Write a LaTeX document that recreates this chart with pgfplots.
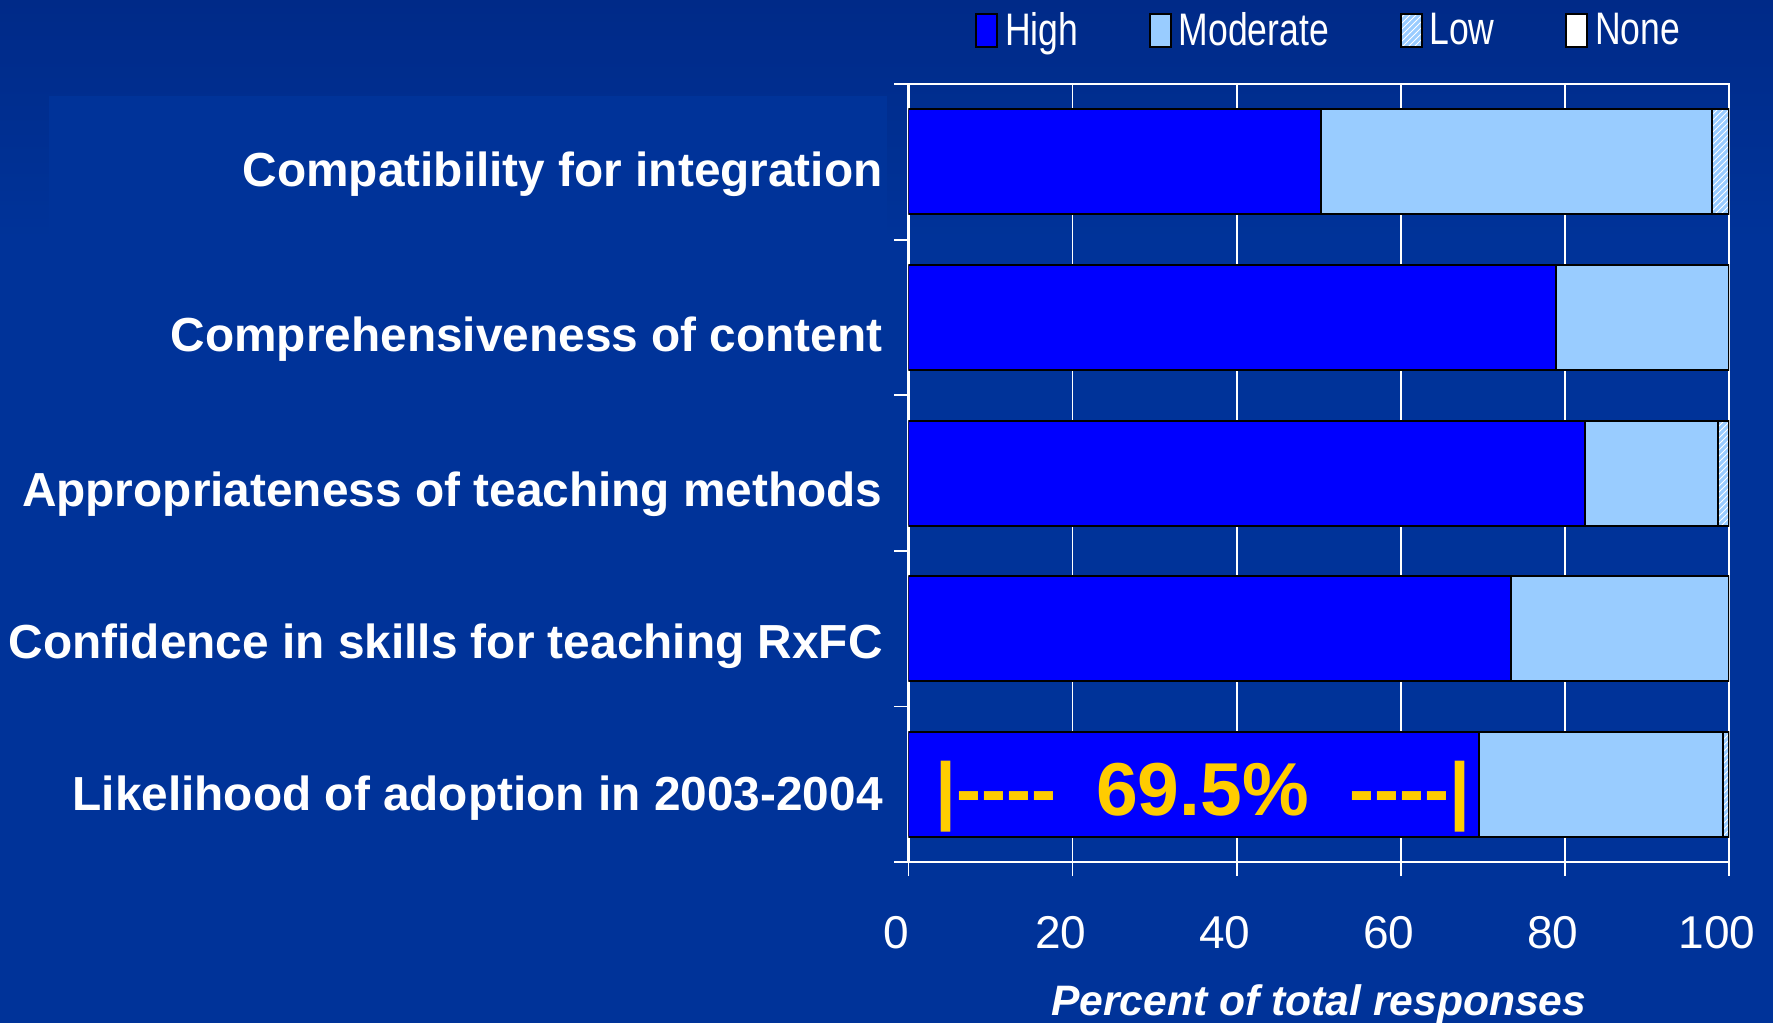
\documentclass[border=0pt]{standalone}
\usepackage{fontspec}
\setmainfont{Liberation Sans}
\newfontfamily\narrowfont[FakeStretch=0.78]{Liberation Sans}
\usepackage{pgfplots}
\pgfplotsset{compat=1.18}
\usetikzlibrary{patterns}
\definecolor{bgA}{HTML}{002A88}
\definecolor{bgB}{HTML}{003399}
\definecolor{hi}{HTML}{0000FF}
\definecolor{mod}{HTML}{99CCFF}
\definecolor{ann}{HTML}{FFCC00}
\newcommand{\lowerby}[2]{\raisebox{-#1}[\height][\depth]{#2}}
\pgfplotsset{sqlegend/.style={legend image code/.code={\draw[##1,draw=black,line width=1pt] (0pt,-8.25pt) rectangle (10.5pt,8.25pt); \path (11.9pt,0pt);}}}
\begin{document}
\begin{tikzpicture}
\useasboundingbox (0pt,0pt) rectangle (886.5pt,-511.5pt);
\fill[bgB] (0pt,0pt) rectangle (886.5pt,-511.5pt);
\shade[top color=bgA, bottom color=bgB] (0pt,0pt) rectangle (886.5pt,-120pt);
\fill[bgB] (24.5pt,-48pt) rectangle (443.5pt,-511.5pt);
\begin{axis}[
  at={(454.25pt,-431pt)}, anchor=south west,
  scale only axis, width=410.25pt, height=389pt,
  xbar stacked, bar width=0.675,
  xmin=0, xmax=100, ymin=-0.5, ymax=4.5, y dir=reverse,
  xtick={0,20,40,60,80,100},
  ytick={-0.5,0.5,1.5,2.5,3.5,4.5},
  y tick label as interval,
  yticklabels={Compatibility for integration, {\lowerby{5pt}{Comprehensiveness of content}}, {\lowerby{4.5pt}{Appropriateness of teaching methods}}, {\lowerby{2.8pt}{Confidence in skills for teaching RxFC}}, {\lowerby{1pt}{Likelihood of adoption in 2003-2004}}},
  tick pos=left, tick align=outside, major tick length=7pt,
  axis line style={white, line width=1.2pt},
  tick style={white, line width=0.9pt},
  xmajorgrids, major grid style={white, line width=0.9pt},
  /pgf/number format/assume math mode=true,
  yticklabel style={font=\fontsize{23.9pt}{28pt}\selectfont\bfseries, text=white, inner xsep=5.75pt, yshift=-6pt},
  xticklabel style={font=\fontsize{23pt}{27pt}\selectfont, text=white, xshift=-6pt, yshift=-16.5pt},
  xlabel={Percent of total responses},
  xlabel style={font=\fontsize{21.3pt}{25pt}\selectfont\bfseries\itshape, text=white, at={(axis description cs:0.5,0)}, anchor=base, yshift=-76.5pt},
  legend columns=4,
  legend style={at={(0.081,1.0694)}, anchor=west, draw=none, fill=none, text=white, inner sep=0pt,
    font=\narrowfont\fontsize{22.8pt}{26pt}\selectfont,
    /tikz/every even column/.append style={column sep=33.3pt}},
]
\addplot[fill=hi, draw=black, line width=1pt, sqlegend] coordinates {(50.3,0) (78.9,1) (82.5,2) (73.4,3) (69.5,4)};
\addplot[fill=mod, draw=black, line width=1pt, sqlegend] coordinates {(47.6,0) (21.1,1) (16.2,2) (26.6,3) (29.8,4)};
\addplot[fill=mod, draw=black, line width=1pt, postaction={pattern=north east lines, pattern color=white}, sqlegend] coordinates {(2.1,0) (0,1) (1.3,2) (0,3) (0.7,4)};
\addplot[fill=white, draw=black, line width=1pt, sqlegend] coordinates {(0,0) (0,1) (0,2) (0,3) (0,4)};
\legend{High, Moderate, Low, None}
\coordinate (annpos) at (axis cs:35.85,4.2);
\end{axis}
\node[anchor=base, text=ann, font=\fontsize{37.5pt}{40pt}\selectfont\bfseries] at (annpos) {|-\kern0pt-\kern0pt-\kern0pt-\hspace{20pt}69.5\%\hspace{20.2pt}-\kern0pt-\kern0pt-\kern0pt-|};
\end{tikzpicture}
\end{document}
